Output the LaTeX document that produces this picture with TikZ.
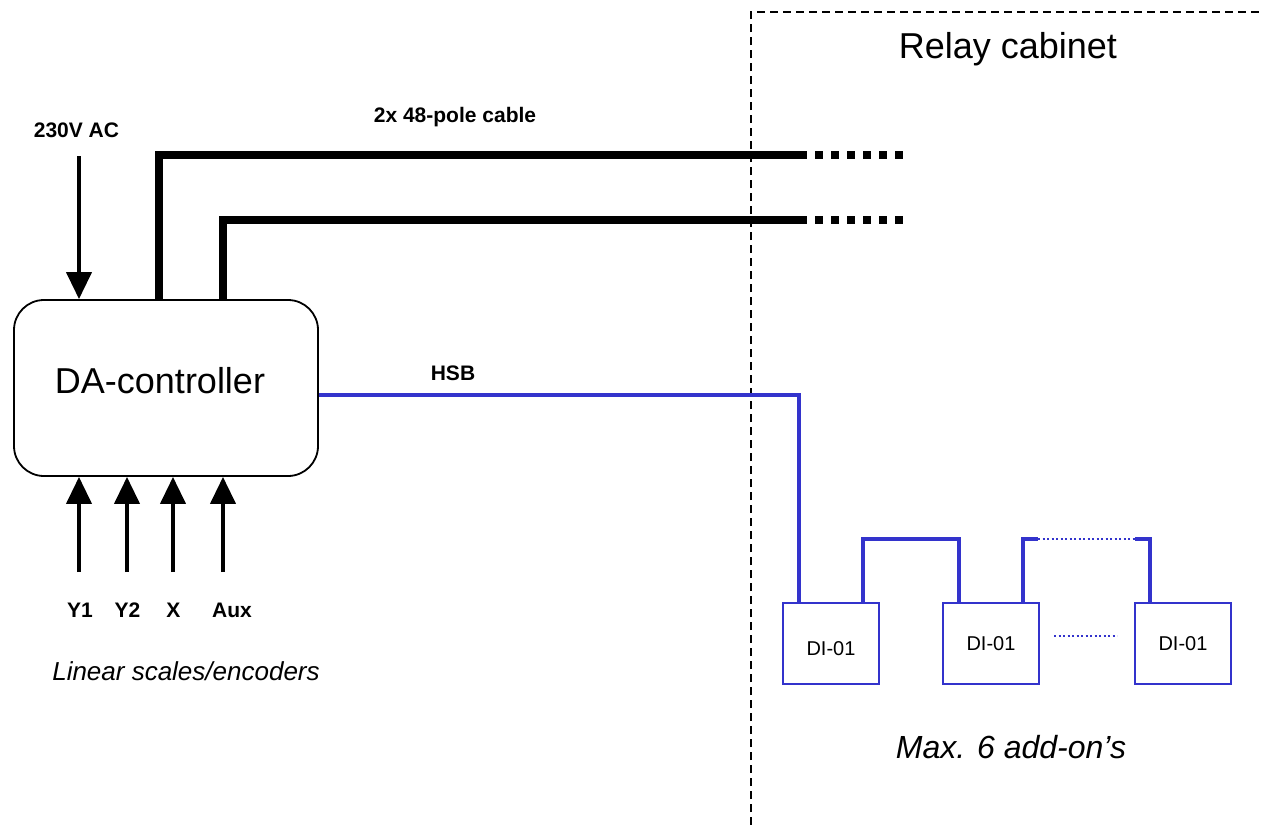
\documentclass[tikz,border=0pt]{standalone}
\usepackage{fontspec}
\setmainfont{Liberation Sans}
\usetikzlibrary{arrows.meta}
\definecolor{hsbblue}{RGB}{51,51,204}

\begin{document}
\begin{tikzpicture}[x=1pt,y=-1pt,
    ctrlbox/.style={draw, line width=1.8pt, rounded corners=30pt, minimum width=304pt, minimum height=176pt},
    dibox/.style={draw=hsbblue, line width=2pt, minimum width=96pt, minimum height=81pt, font=\fontsize{20pt}{24pt}\selectfont},
    cable/.style={line width=8pt},
    cableend/.style={line width=8pt, dash pattern=on 8pt off 8pt, dash phase=8pt},
    feed/.style={line width=4pt, -{Triangle[width=25pt,length=27pt]}},
    hsb/.style={draw=hsbblue, line width=3.5pt},
    hsbdots/.style={draw=hsbblue, line width=1.5pt, dash pattern=on 2pt off 2.5pt},
    cabinet/.style={line width=1.5pt, dash pattern=on 8pt off 5pt},
    big/.style={font=\fontsize{36pt}{40pt}\selectfont, anchor=base},
    bigit/.style={font=\fontsize{32pt}{38pt}\selectfont\itshape, anchor=base},
    smallit/.style={font=\fontsize{26pt}{30pt}\selectfont\itshape, anchor=base},
    tag/.style={font=\fontsize{21pt}{24pt}\selectfont\bfseries, anchor=base}]
        \useasboundingbox (0,0) rectangle (1262,825);

        % Relay cabinet rajaus
        \draw[cabinet] (751,825) -- (751,12) -- (1262,12);
        \node[big] (cab) at (1008,58) {Relay cabinet};

        % Ohjain ja lisämoduulit
        \node[ctrlbox] (ctrl) at (166,388) {};
        \node[big] (ctrltxt) at (160,393) {DA-controller};
        \node[dibox] (di1) at (831,643.5) {\raisebox{-5pt}[\height][0pt]{DI-01}};
        \node[dibox] (di2) at (991,643.5) {DI-01};
        \node[dibox] (di3) at (1183,643.5) {DI-01};

        % Syöttö
        \node[tag] (ac) at (76.5,137) {230V AC};
        \coordinate (acin) at (79,156);   % nuolen alku
        \draw[feed] (acin) -- (acin |- ctrl.north);

        % Kaapelit releille
        \node[tag] (cbl) at (455,122) {2x 48-pole cable};
        \coordinate (k1) at (159,155);
        \coordinate (k2) at (222.5,220);
        \coordinate (c1) at (807,155);
        \coordinate (c2) at (807,220);
        \draw[cable] (k1 |- ctrl.north) |- (c1);
        \draw[cable] (k2 |- ctrl.north) |- (c2);
        \draw[cableend] (c1) -- ++(96,0);
        \draw[cableend] (c2) -- ++(96,0);

        % HSB-väylä
        \node[tag] (hsbtxt) at (453,380) {HSB};
        \draw[hsb] ([yshift=-7pt]ctrl.east) -| ([xshift=-32pt]di1.north);
        \draw[hsb] ([xshift=32pt]di1.north) -- ++(0,-63) -| ([xshift=-32pt]di2.north);
        \draw[hsb] ([xshift=32pt]di2.north) -- ++(0,-63) -- ++(15,0) coordinate (d1);
        \draw[hsb] ([xshift=-33pt]di3.north) -- ++(0,-63) -- ++(-15,0) coordinate (d2);
        \draw[hsbdots] (d1) -- (d2);
        \draw[hsbdots] ([shift={(14pt,7.5pt)}]di2.east) -- ([shift={(-17pt,7.5pt)}]di3.west);
        \node[bigit] (maxtxt) at (1011,758) {Max. 6 add-on’s};

        % Anturit
        \foreach \nm/\ax/\tx in {Y1/79/80, Y2/127/127.5, X/173/173.5, Aux/223/232} {
          \node[tag] (in\nm) at (\tx,617) {\nm};
          \coordinate (t\nm) at (\ax,572);
          \draw[feed] (t\nm) -- (t\nm |- ctrl.south);
        }
        \node[smallit] (enc) at (186,680) {Linear scales/encoders};
      \end{tikzpicture}
\end{document}
